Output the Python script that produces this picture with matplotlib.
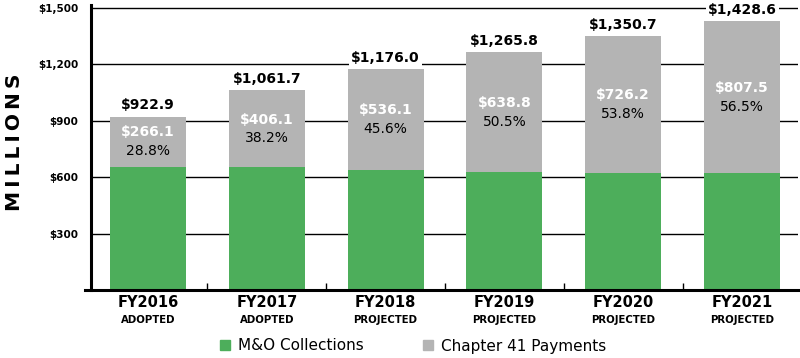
import numpy as np
import matplotlib.pyplot as plt
from matplotlib.patches import Patch

# ==== data ====
years = ['FY2016', 'FY2017', 'FY2018', 'FY2019', 'FY2020', 'FY2021']
status = ['ADOPTED', 'ADOPTED', 'PROJECTED', 'PROJECTED', 'PROJECTED', 'PROJECTED']
totals = [922.9, 1061.7, 1176.0, 1265.8, 1350.7, 1428.6]
ch41 = [266.1, 406.1, 536.1, 638.8, 726.2, 807.5]
ch41_pct = [28.8, 38.2, 45.6, 50.5, 53.8, 56.5]
mo = [t - c for t, c in zip(totals, ch41)]
yticks = [300, 600, 900, 1200, 1500]
ytick_labels = ['$300', '$600', '$900', '$1,200', '$1,500']

green = '#4dae5b'
gray = '#b4b4b4'

plt.rcParams['font.family'] = ['DejaVu Sans']

fig = plt.figure(figsize=(8, 3.58), dpi=100)
ax = fig.add_axes([85 / 800, 68 / 358, 713 / 800, 284.8 / 358])

x = np.arange(len(years))
w = 0.64
xleft, xright = -0.53, 5.471
spine_x = -0.48

# gridlines behind bars
ax.hlines(yticks, spine_x, xright, colors='black', linewidth=1.0, zorder=0)

ax.bar(x, mo, w, color=green, zorder=2)
ax.bar(x, ch41, w, bottom=mo, color=gray, zorder=2)

for i in range(len(years)):
    ax.annotate(f'${totals[i]:,.1f}', (x[i], totals[i]), xytext=(0, 3),
                textcoords='offset points', ha='center', va='bottom',
                fontsize=10, fontweight='bold', color='black', zorder=4,
                bbox=dict(boxstyle='square,pad=0.15', fc='white', ec='none'))
    mid = mo[i] + ch41[i] / 2
    ax.annotate(f'${ch41[i]:.1f}', (x[i], mid), xytext=(0, 6.5),
                textcoords='offset points', ha='center', va='center',
                fontsize=10, fontweight='bold', color='white', zorder=4)
    ax.annotate(f'{ch41_pct[i]:.1f}%', (x[i], mid), xytext=(0, -7),
                textcoords='offset points', ha='center', va='center',
                fontsize=10, color='black', zorder=4)
    ax.text(x[i], -0.045, years[i], transform=ax.get_xaxis_transform(),
            ha='center', va='center', fontsize=10.5, fontweight='bold')
    ax.text(x[i], -0.105, status[i], transform=ax.get_xaxis_transform(),
            ha='center', va='center', fontsize=7.3, fontweight='bold')

ax.set_xlim(xleft, xright)
ax.set_ylim(0, 1515)

ax.spines['top'].set_visible(False)
ax.spines['right'].set_visible(False)
ax.spines['left'].set_position(('data', spine_x))
ax.spines['left'].set_linewidth(2.2)
ax.spines['bottom'].set_linewidth(2.2)
ax.spines['left'].set_zorder(3)
ax.spines['bottom'].set_zorder(3)

ax.set_xticks([])
ax.set_xticks(x[:-1] + 0.5, minor=True)
ax.tick_params(axis='x', which='minor', direction='in', length=5, width=1.0)
ax.set_yticks(yticks)
ax.set_yticklabels(ytick_labels, fontsize=7.5, fontweight='bold')
ax.tick_params(axis='y', length=0, pad=9)

fig.text(15 / 800, 1 - 142 / 358, 'M\u2009I\u2009L\u2009L\u2009I\u2009O\u2009N\u2009S',
         rotation=90, ha='center', va='center', fontsize=14.5, fontweight='bold')

handles = [Patch(color=green, label='M&O Collections'),
           Patch(color=gray, label='Chapter 41 Payments')]
fig.legend(handles=handles, loc='center', bbox_to_anchor=(413 / 800, 1 - 346 / 358),
           ncol=2, frameon=False, fontsize=11, handlelength=0.65, handleheight=0.65,
           handletextpad=0.5, columnspacing=3.9, borderpad=0)

fig.savefig('out.png', dpi=100)
